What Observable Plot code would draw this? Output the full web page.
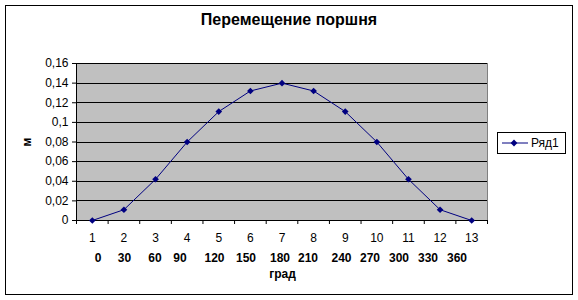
<!DOCTYPE html>
<html>
<head>
<meta charset="utf-8">
<script src="https://cdn.jsdelivr.net/npm/d3@7"></script>
<script src="https://cdn.jsdelivr.net/npm/@observablehq/plot@0.6"></script>
<style>
  html, body { margin: 0; padding: 0; background: #fff; }
  #wrap { position: relative; width: 578px; height: 300px; font-family: "Liberation Sans", Arial, sans-serif; overflow: hidden; }
  #wrap svg.plot { position: absolute; left: 0; top: 0; }
  .border { position: absolute; left: 5px; top: 5px; border: 1px solid #000; box-sizing: border-box; width: 568px; height: 290px; pointer-events: none; }
  .title { position: absolute; left: 0; width: 578px; top: 11px; text-align: center; font-weight: bold; font-size: 16px; }
  .ylab { position: absolute; left: 26.5px; top: 141.5px; transform: translate(-50%, -50%) rotate(-90deg); font-weight: bold; font-size: 12px; }
  .deg { position: absolute; top: 251px; font-weight: bold; font-size: 12px; transform: translateX(-50%); white-space: nowrap; }
  .xlab { position: absolute; top: 267px; left: 282.5px; transform: translateX(-50%); font-weight: bold; font-size: 12px; }
  .legend { position: absolute; left: 497px; top: 132px; width: 69px; height: 22px; border: 1px solid #000; box-sizing: border-box; background: #fff; font-size: 12px; }
  .legend svg { position: absolute; left: 4px; top: 5px; }
  .legend span { position: absolute; left: 33px; top: 3px; }
  .crisp { shape-rendering: crispEdges; }
</style>
</head>
<body>
<div id="wrap"></div>
<script>
// Data
const categories = [1, 2, 3, 4, 5, 6, 7, 8, 9, 10, 11, 12, 13];
const values = [0, 0.011, 0.042, 0.08, 0.111, 0.132, 0.14, 0.132, 0.111, 0.08, 0.042, 0.011, 0];
const yTicks = [0, 0.02, 0.04, 0.06, 0.08, 0.1, 0.12, 0.14, 0.16];
const degreeLabels = ["0", "30", "60", "90", "120", "150", "180", "210", "240", "270", "300", "330", "360"];
const titleText = "Перемещение поршня";
const yTitle = "м";
const xTitle = "град";
const seriesName = "Ряд1";

// layout (pixel centers of the degree labels as in the reference text box)
const degreeCenters = [98, 124.5, 155, 180, 214.5, 246, 280, 308, 341.5, 370, 399, 428, 457];

const data = categories.map((c, i) => ({x: c, y: values[i]}));
const boundaries = d3.range(0.5, 13.6, 1);
const fmt = d => String(d).replace(".", ",");

const navy = "#000080";

const plot = Plot.plot({
  width: 578,
  height: 300,
  marginLeft: 76,
  marginRight: 91,
  marginTop: 63,
  marginBottom: 80,
  style: { fontFamily: "Liberation Sans, Arial, sans-serif", fontSize: "12px", background: "transparent", color: "#000" },
  x: { type: "linear", domain: [0.5, 13.5] },
  y: { domain: [0, 0.16] },
  marks: [
    Plot.frame({ fill: "#c0c0c0", stroke: "#808080", className: "crisp" }),
    Plot.ruleY(yTicks.filter(d => d > 0), { stroke: "#000", strokeWidth: 1, className: "crisp" }),
    Plot.axisY({ ticks: yTicks, tickFormat: fmt, tickSize: 4, tickPadding: 4, label: null, fontSize: 12, stroke: "#000" }),
    Plot.axisX({ ticks: boundaries, tickFormat: () => "", tickSize: 4, label: null, stroke: "#000" }),
    Plot.axisX({ ticks: categories, tickFormat: d => String(d), tickSize: 0, tickPadding: 13, label: null, fontSize: 12 }),
    Plot.ruleX([0.5], { stroke: "#000", className: "crisp" }),
    Plot.ruleY([0], { stroke: "#000", className: "crisp" }),
    Plot.line(data, { x: "x", y: "y", stroke: navy, strokeWidth: 1 }),
    Plot.dot(data, { x: "x", y: "y", symbol: "diamond2", r: 3, fill: navy, stroke: "none" })
  ]
});
plot.classList.add("plot");

const wrap = document.getElementById("wrap");
wrap.appendChild(plot);

function add(cls, text, style) {
  const d = document.createElement("div");
  d.className = cls;
  if (text != null) d.textContent = text;
  if (style) Object.assign(d.style, style);
  wrap.appendChild(d);
  return d;
}
add("title", titleText);
add("ylab", yTitle);
degreeLabels.forEach((t, i) => add("deg", t, { left: degreeCenters[i] + "px" }));
add("xlab", xTitle);

const leg = add("legend", null);
leg.innerHTML = `<svg width="26" height="10"><line x1="0" y1="5" x2="26" y2="5" stroke="${navy}" stroke-width="1"/><path d="M12,1.6L15.4,5L12,8.4L8.6,5Z" fill="${navy}"/></svg><span>${seriesName}</span>`;

add("border", null);
</script>
</body>
</html>
